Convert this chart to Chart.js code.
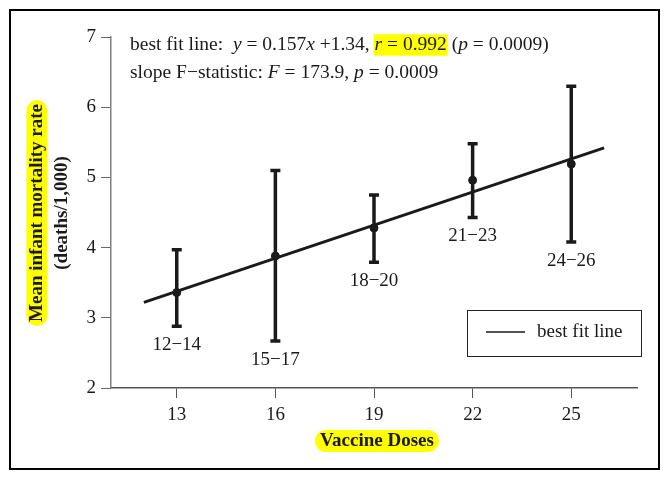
<!DOCTYPE html>
<html>
<head>
<meta charset="utf-8">
<script src="https://cdn.jsdelivr.net/npm/chart.js@4/dist/chart.umd.min.js"></script>
<style>
  html, body { margin: 0; padding: 0; background: #fff; }
  canvas { display: block; }
</style>
</head>
<body>
<canvas id="vaxChart" width="671" height="483"></canvas>
<script>
// values
const doses = [13, 16, 19, 22, 25];
const groups = ['12\u221214', '15\u221217', '18\u221220', '21\u221223', '24\u221226'];
const meanRate = [3.36, 3.88, 4.28, 4.96, 5.19];
const lowerRate = [2.88, 2.67, 3.79, 4.43, 4.08];
const upperRate = [3.97, 5.10, 4.75, 5.48, 6.30];
const fitX = [12, 26];
const fitY = [3.22, 5.42];
const xTicks = [13, 16, 19, 22, 25];

const SERIF = '"Liberation Serif", "DejaVu Serif", serif';
const INK = '#1a1a1a';

function pill(ctx, x, y, w, h, r) {
    ctx.beginPath();
    ctx.moveTo(x + r, y);
    ctx.lineTo(x + w - r, y);
    ctx.arc(x + w - r, y + r, r, -Math.PI / 2, Math.PI / 2);
    ctx.lineTo(x + r, y + h);
    ctx.arc(x + r, y + r, r, Math.PI / 2, Math.PI * 1.5);
    ctx.closePath();
    ctx.fill();
}

// draws text pieces with italics and highlight, left to right
function drawRich(ctx, parts, x, y, size) {
    ctx.textBaseline = 'middle';
    ctx.textAlign = 'left';
    let cx = x;
    const spans = parts.map(p => {
        ctx.font = (p.i ? 'italic ' : '') + size + 'px ' + SERIF;
        const w = ctx.measureText(p.t).width;
        const s = { p: p, x: cx, w: w };
        cx += w;
        return s;
    });
    const hl = spans.filter(s => s.p.hl);
    if (hl.length) {
        const x0 = hl[0].x - 1, x1 = hl[hl.length - 1].x + hl[hl.length - 1].w + 1;
        ctx.fillStyle = '#ffff00';
        ctx.fillRect(x0, y - size * 0.55, x1 - x0, size * 1.1);
    }
    ctx.fillStyle = INK;
    spans.forEach(s => {
        ctx.font = (s.p.i ? 'italic ' : '') + size + 'px ' + SERIF;
        ctx.fillText(s.p.t, s.x, y);
    });
}

const extrasPlugin = {
    id: 'extras',
    afterDatasetsDraw(chart) {
        const ctx = chart.ctx;
        const xs = chart.scales.x, ys = chart.scales.y;
        ctx.save();
        // error bars
        ctx.strokeStyle = INK;
        ctx.lineWidth = 3.5;
        doses.forEach((d, i) => {
            const px = xs.getPixelForValue(d);
            const top = ys.getPixelForValue(upperRate[i]);
            const bot = ys.getPixelForValue(lowerRate[i]);
            ctx.beginPath();
            ctx.moveTo(px, top); ctx.lineTo(px, bot);
            ctx.moveTo(px - 5, top); ctx.lineTo(px + 5, top);
            ctx.moveTo(px - 5, bot); ctx.lineTo(px + 5, bot);
            ctx.stroke();
        });
        // group labels under each bar
        ctx.fillStyle = INK;
        ctx.font = '19px ' + SERIF;
        ctx.textAlign = 'center';
        ctx.textBaseline = 'middle';
        doses.forEach((d, i) => {
            const px = xs.getPixelForValue(d);
            const bot = ys.getPixelForValue(lowerRate[i]);
            ctx.fillText(groups[i], px, bot + 19);
        });
        ctx.restore();
    },
    afterDraw(chart) {
        const ctx = chart.ctx;
        ctx.save();
        // outer frame
        ctx.strokeStyle = '#000';
        ctx.lineWidth = 2;
        ctx.strokeRect(10, 10, 649, 459);

        // stats text
        drawRich(ctx, [
            { t: 'best fit line:  ' }, { t: 'y', i: true }, { t: ' = 0.157' }, { t: 'x', i: true },
            { t: ' +1.34, ' }, { t: 'r', i: true, hl: true }, { t: ' = 0.992', hl: true },
            { t: ' (' }, { t: 'p', i: true }, { t: ' = 0.0009)' }
        ], 130, 45, 19.5);
        drawRich(ctx, [
            { t: 'slope F\u2212statistic: ' }, { t: 'F', i: true }, { t: ' = 173.9, ' },
            { t: 'p', i: true }, { t: ' = 0.0009' }
        ], 130, 73, 19.5);

        // x title
        ctx.font = 'bold 19px ' + SERIF;
        ctx.textAlign = 'center';
        ctx.textBaseline = 'middle';
        let w = ctx.measureText('Vaccine Doses').width;
        ctx.fillStyle = '#ffff00';
        pill(ctx, 377 - w / 2 - 5, 430, w + 10, 22, 11);
        ctx.fillStyle = INK;
        ctx.fillText('Vaccine Doses', 377, 441);

        // y title
        ctx.translate(37, 213);
        ctx.rotate(-Math.PI / 2);
        w = ctx.measureText('Mean infant mortality rate').width;
        ctx.fillStyle = '#ffff00';
        pill(ctx, -w / 2 - 4, -10.5, w + 8, 21, 10.5);
        ctx.fillStyle = INK;
        ctx.fillText('Mean infant mortality rate', 0, 0);
        ctx.fillText('(deaths/1,000)', 0, 25);
        ctx.restore();

        // legend box
        ctx.save();
        ctx.strokeStyle = '#222';
        ctx.lineWidth = 1;
        ctx.strokeRect(467.5, 310.5, 174, 46);
        ctx.lineWidth = 1.5;
        ctx.strokeStyle = INK;
        ctx.beginPath();
        ctx.moveTo(486, 332); ctx.lineTo(525, 332);
        ctx.stroke();
        ctx.fillStyle = INK;
        ctx.font = '19px ' + SERIF;
        ctx.textAlign = 'left';
        ctx.textBaseline = 'middle';
        ctx.fillText('best fit line', 537, 332);
        ctx.restore();
    }
};

const ctx = document.getElementById('vaxChart').getContext('2d');
new Chart(ctx, {
    type: 'scatter',
    data: {
        datasets: [{
            label: 'best fit line',
            type: 'line',
            data: fitX.map((x, i) => ({ x: x, y: fitY[i] })),
            borderColor: INK,
            borderWidth: 3,
            pointRadius: 0,
            fill: false
        }, {
            label: 'mean',
            data: doses.map((x, i) => ({ x: x, y: meanRate[i] })),
            backgroundColor: INK,
            borderColor: INK,
            pointRadius: 4
        }]
    },
    options: {
        responsive: false,
        animation: false,
        layout: { padding: { top: 37, right: 34, left: 0, bottom: 0 } },
        plugins: {
            legend: { display: false },
            tooltip: { enabled: false }
        },
        scales: {
            x: {
                type: 'linear',
                min: 11,
                max: 27,
                afterBuildTicks: s => { s.ticks = xTicks.map(v => ({ value: v })); },
                afterFit: s => { s.height = 95; },
                grid: { drawOnChartArea: false, tickLength: 10, color: '#555', lineWidth: 1 },
                border: { color: '#555', width: 1.5 },
                ticks: { color: INK, padding: 6, font: { family: SERIF, size: 19 } }
            },
            y: {
                min: 2,
                max: 7,
                ticks: { stepSize: 1, color: INK, padding: 5, font: { family: SERIF, size: 19 } },
                afterFit: s => { s.width = 111; },
                grid: { drawOnChartArea: false, tickLength: 10, color: '#666', lineWidth: 1 },
                border: { color: '#808080', width: 1.5 }
            }
        }
    },
    plugins: [extrasPlugin]
});
</script>
</body>
</html>
